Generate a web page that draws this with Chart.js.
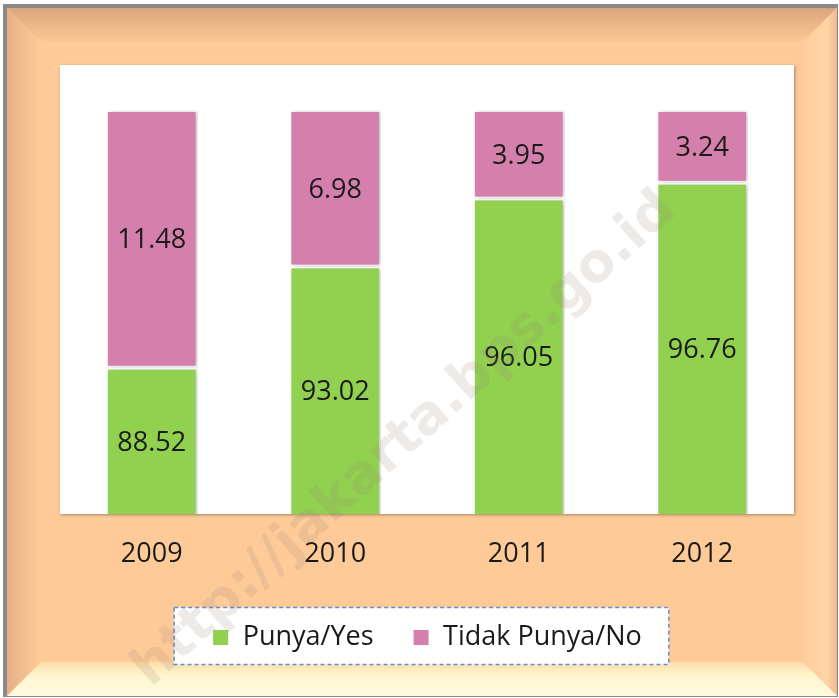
<!DOCTYPE html>
<html>
<head>
<meta charset="utf-8">
<script src="https://cdn.jsdelivr.net/npm/chart.js@4"></script>
<style>
  html, body { margin: 0; padding: 0; background: #ffffff; }
  #wrap { width: 839px; height: 698px; }
</style>
</head>
<body>
<div id="wrap"><canvas id="myChart"></canvas></div>
<script>
const years = ['2009', '2010', '2011', '2012'];
const yesValues = [88.52, 93.02, 96.05, 96.76];
const noValues = [11.48, 6.98, 3.95, 3.24];
const seriesNames = ['Punya/Yes', 'Tidak Punya/No'];

const FONT = '"Open Sans", "Liberation Sans", sans-serif';

// peach bevelled frame, white plot area and legend box
const framePlugin = {
  id: 'frame',
  beforeDraw(chart) {
    const ctx = chart.ctx;
    const W = chart.width, H = chart.height;
    ctx.save();
    ctx.fillStyle = '#ffffff';
    ctx.fillRect(0, 0, W, H);
    // outer grey rim
    ctx.fillStyle = '#8a8a8a';
    ctx.fillRect(3, 4, W - 4, H - 5);
    const x0 = 7, y0 = 8, x1 = W - 2, y1 = H - 2;
    ctx.fillStyle = '#fecb98';
    ctx.fillRect(x0, y0, x1 - x0, y1 - y0);
    const b = 34;
    // top bevel
    let g = ctx.createLinearGradient(0, y0, 0, y0 + b);
    g.addColorStop(0, '#d9a57c');
    g.addColorStop(1, '#fdc895');
    ctx.fillStyle = g;
    ctx.beginPath();
    ctx.moveTo(x0, y0); ctx.lineTo(x1, y0); ctx.lineTo(x1 - b, y0 + b); ctx.lineTo(x0 + b, y0 + b);
    ctx.fill();
    // left bevel
    g = ctx.createLinearGradient(x0, 0, x0 + b, 0);
    g.addColorStop(0, '#e6b085');
    g.addColorStop(1, '#ffcb98');
    ctx.fillStyle = g;
    ctx.beginPath();
    ctx.moveTo(x0, y0); ctx.lineTo(x0 + b, y0 + b); ctx.lineTo(x0 + b, y1 - b); ctx.lineTo(x0, y1);
    ctx.fill();
    // right bevel
    g = ctx.createLinearGradient(x1 - b, 0, x1, 0);
    g.addColorStop(0, '#ffcd9b');
    g.addColorStop(0.7, '#ffd4a6');
    g.addColorStop(1, '#f0b98a');
    ctx.fillStyle = g;
    ctx.beginPath();
    ctx.moveTo(x1, y0); ctx.lineTo(x1, y1); ctx.lineTo(x1 - b, y1 - b); ctx.lineTo(x1 - b, y0 + b);
    ctx.fill();
    // bottom bevel
    g = ctx.createLinearGradient(0, y1 - b, 0, y1);
    g.addColorStop(0, '#ffdcab');
    g.addColorStop(0.4, '#fff6cf');
    g.addColorStop(1, '#fffbe0');
    ctx.fillStyle = g;
    ctx.beginPath();
    ctx.moveTo(x0, y1); ctx.lineTo(x0 + b, y1 - b); ctx.lineTo(x1 - b, y1 - b); ctx.lineTo(x1, y1);
    ctx.fill();

    // plot area
    const a = chart.chartArea;
    ctx.shadowColor = 'rgba(0,0,0,0.35)';
    ctx.shadowBlur = 3;
    ctx.shadowOffsetX = 1;
    ctx.shadowOffsetY = 1;
    ctx.fillStyle = '#ffffff';
    ctx.fillRect(a.left, a.top, a.right - a.left, a.bottom - a.top);
    ctx.shadowColor = 'transparent';

    // legend box
    const lg = chart.legend;
    if (lg && lg.legendHitBoxes && lg.legendHitBoxes.length) {
      const hb = lg.legendHitBoxes;
      const first = hb[0], last = hb[hb.length - 1];
      const cy = first.top + first.height / 2;
      const bx = first.left - 38, bw = last.left + last.width + 27 - bx;
      const by = cy - 30, bh = 57;
      ctx.fillStyle = '#ffffff';
      ctx.fillRect(bx, by, bw, bh);
      ctx.strokeStyle = '#5b8fd6';
      ctx.lineWidth = 1.5;
      ctx.setLineDash([4, 3]);
      ctx.strokeRect(bx, by, bw, bh);
      ctx.setLineDash([]);
    }
    ctx.restore();
  }
};

// soft shadow under the bars
const barShadow = {
  id: 'barShadow',
  beforeDatasetsDraw(chart) {
    const ctx = chart.ctx;
    ctx.save();
    ctx.shadowColor = 'rgba(0,0,0,0.25)';
    ctx.shadowBlur = 5;
    ctx.shadowOffsetX = 2;
    ctx.shadowOffsetY = 0;
  },
  afterDatasetsDraw(chart) {
    chart.ctx.restore();
  }
};

// value labels centred in the visible part of each segment
const valueLabels = {
  id: 'valueLabels',
  afterDatasetsDraw(chart) {
    const ctx = chart.ctx;
    const bottom = chart.chartArea.bottom;
    ctx.save();
    ctx.font = '27px ' + FONT;
    ctx.fillStyle = '#1a1a1a';
    ctx.textAlign = 'center';
    ctx.textBaseline = 'middle';
    chart.data.datasets.forEach((ds, i) => {
      chart.getDatasetMeta(i).data.forEach((bar, j) => {
        const p = bar.getProps(['x', 'y', 'base'], true);
        const base = Math.min(p.base, bottom);
        ctx.fillText(ds.data[j].toFixed(2), p.x, (p.y + base) / 2 + 2);
      });
    });
    ctx.restore();
  }
};

// faint site watermark across the picture
const watermark = {
  id: 'watermark',
  afterDraw(chart) {
    const ctx = chart.ctx;
    ctx.save();
    ctx.translate(405, 440);
    ctx.rotate(-42 * Math.PI / 180);
    ctx.font = 'bold 54px "DejaVu Sans", sans-serif';
    ctx.fillStyle = 'rgba(150,130,110,0.17)';
    ctx.textAlign = 'center';
    ctx.textBaseline = 'middle';
    ctx.fillText('http://jakarta.bps.go.id', 0, 0);
    ctx.restore();
  }
};

const chart = new Chart(document.getElementById('myChart'), {
  type: 'bar',
  data: {
    labels: years,
    datasets: [{
      label: seriesNames[0],
      data: yesValues,
      backgroundColor: '#92d050',
      borderColor: '#ffffff',
      borderWidth: 2,
      borderSkipped: false
    }, {
      label: seriesNames[1],
      data: noValues,
      backgroundColor: '#d47fac',
      borderColor: '#ffffff',
      borderWidth: 2,
      borderSkipped: false
    }]
  },
  options: {
    responsive: true,
    maintainAspectRatio: false,
    animation: false,
    layout: {
      padding: { top: 65, left: 60, right: 45, bottom: 37 }
    },
    datasets: {
      bar: { categoryPercentage: 1, barPercentage: 0.5 }
    },
    scales: {
      x: {
        stacked: true,
        grid: { display: false, drawTicks: false },
        border: { display: false },
        ticks: {
          color: '#1a1a1a',
          padding: 24,
          font: { family: FONT, size: 27 }
        },
        afterFit(scale) { scale.height = 71; }
      },
      y: {
        stacked: true,
        display: false,
        min: 82,
        max: 102
      }
    },
    plugins: {
      legend: {
        position: 'bottom',
        labels: {
          color: '#1a1a1a',
          boxWidth: 17,
          boxHeight: 17,
          padding: 39,
          font: { family: FONT, size: 27 }
        }
      },
      tooltip: { enabled: false }
    }
  },
  plugins: [framePlugin, barShadow, valueLabels, watermark]
});
</script>
</body>
</html>
